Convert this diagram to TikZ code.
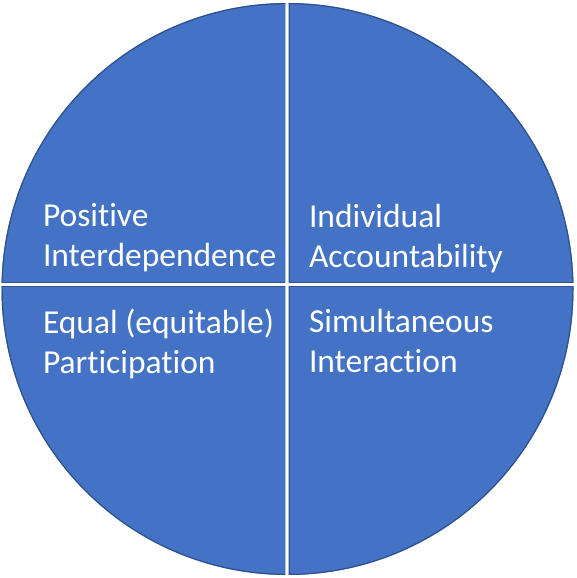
\documentclass[tikz,border=0pt]{standalone}
\usepackage{fontspec}
\setmainfont{Carlito}[Ligatures={NoCommon,NoRequired,NoContextual}]
\definecolor{qfill}{HTML}{4472C4}
\definecolor{qline}{HTML}{2F528F}
\tikzset{
  lbl/.style={anchor=base west, inner sep=0pt, outer sep=0pt, text=white, align=left,
    font=\fontsize{33.5}{40}\selectfont},
}
\newcommand{\quadpiece}[4]{%
  \begin{scope}
    \clip (287.5,289) circle (286);
    \clip (#1,#2) rectangle (#3,#4);
    \fill[qfill] (#1,#2) rectangle (#3,#4);
    \draw[qline, line width=2.4pt] (287.5,289) circle (286);
    \draw[qline, line width=1.6pt] (#1,#2) rectangle (#3,#4);
  \end{scope}}
\begin{document}
\begin{tikzpicture}[x=1pt,y=-1pt]
  \useasboundingbox (0,0) rectangle (576,578);
  \fill[white] (0,0) rectangle (576,578);
  \quadpiece{0}{0}{285.3}{282.8}
  \quadpiece{288.7}{0}{576}{282.8}
  \quadpiece{0}{286.2}{285.3}{578}
  \quadpiece{288.7}{286.2}{576}{578}
  \node[lbl] (pi) at (43,266) {Positive\\Interdependence};
  \node[lbl] (ia) at (309,267) {Individual\\Accountability};
  \node[lbl] (ep) at (43,373) {Equal (equitable)\\Participation};
  \node[lbl] (si) at (309,372) {Simultaneous\\Interaction};
\end{tikzpicture}
\end{document}
